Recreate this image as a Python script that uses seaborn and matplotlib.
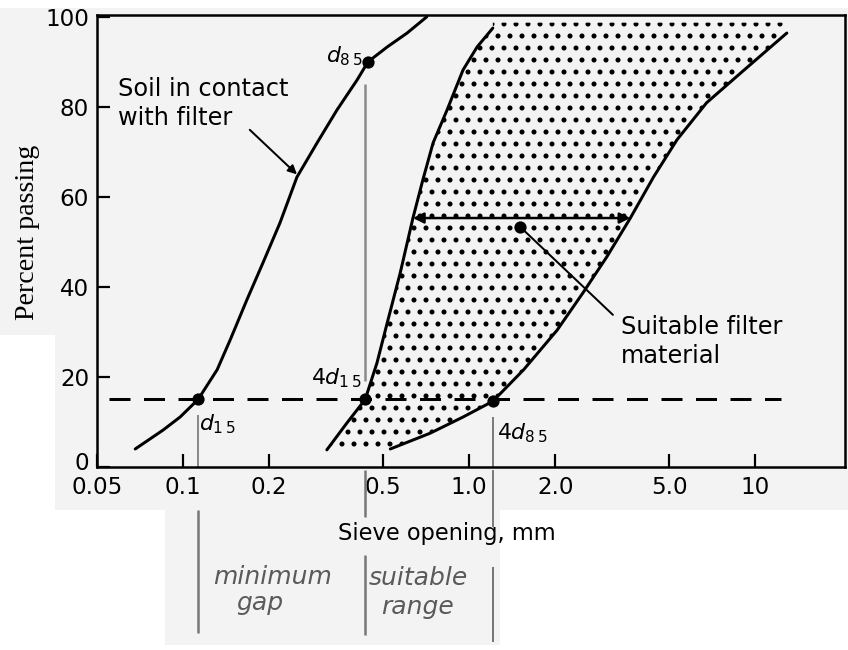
import numpy as np
import pandas as pd
import matplotlib
matplotlib.use("Agg")
import matplotlib.pyplot as plt
from matplotlib.patches import Rectangle
from matplotlib.transforms import ScaledTranslation
import seaborn as sns

# ---------------- data ----------------
soil_size = [0.068, 0.0851, 0.0976, 0.1128, 0.1315, 0.146, 0.167, 0.190, 0.218,
             0.250, 0.294, 0.345, 0.406, 0.443, 0.517, 0.607, 0.711]
soil_pct = [4.0, 8.2, 11.1, 15.0, 21.6, 28.2, 37.1, 45.3, 54.2,
            64.4, 72.0, 79.3, 86.0, 90.0, 93.3, 96.4, 100.0]

filter_fine_size = [0.318, 0.374, 0.433, 0.476, 0.517, 0.574, 0.636, 0.689,
                    0.748, 0.837, 0.952, 1.066, 1.21]
filter_fine_pct = [3.8, 9.8, 15.0, 23.1, 32.0, 43.1, 55.3, 63.8,
                   72.0, 79.3, 88.2, 93.3, 97.5]

filter_coarse_size = [0.53, 0.56, 0.73, 0.952, 1.21, 1.55, 2.03, 2.50, 3.03,
                      3.66, 4.41, 5.33, 6.76, 8.89, 12.9]
filter_coarse_pct = [4.0, 4.6, 7.5, 11.1, 14.6, 21.6, 30.4, 38.7, 46.7,
                     55.3, 64.4, 72.7, 80.9, 87.5, 96.4]

fill_top_pct = 98.7

d15 = 0.1128
d85 = 0.443
four_d15 = 0.433
four_d85 = 1.21
pct_15 = 15
pct_85 = 90
pct_4d85 = 14.6

arrow_pct = 55.3
arrow_left = 0.636
arrow_right = 3.66
filter_label_point = (1.51, 53.3)
filter_label_end = (3.18, 33.8)

dash_x = [0.055, 12.3]

x_ticks = [0.05, 0.1, 0.2, 0.5, 1.0, 2.0, 5.0, 10]
x_tick_labels = ["0.05", "0.1", "0.2", "0.5", "1.0", "2.0", "5.0", "10"]
y_ticks = [0, 20, 40, 60, 80, 100]
y_tick_labels = ["0", "20", "40", "60", "80", "100"]

# ---------------- figure ----------------
sns.set_theme(style="white")
plt.rcParams["font.family"] = ["DejaVu Sans"]
plt.rcParams["text.color"] = "black"
plt.rcParams["axes.labelcolor"] = "black"
plt.rcParams["hatch.linewidth"] = 2.6
plt.rcParams["mathtext.fontset"] = "dejavusans"

DPI = 72
fig = plt.figure(figsize=(848 / DPI, 650 / DPI), dpi=DPI, facecolor="white")

paper = "#f3f3f3"
for (x0, y0, x1, y1) in [(55, 8, 848, 510), (0, 8, 55, 335), (165, 510, 500, 645)]:
    fig.patches.append(Rectangle((x0 / 848, 1 - y1 / 650), (x1 - x0) / 848, (y1 - y0) / 650,
                                 transform=fig.transFigure, facecolor=paper,
                                 edgecolor="none", zorder=-2))

ax = fig.add_axes([97 / 848, 1 - 467 / 650, 748 / 848, 452 / 650])
ax.set_facecolor("none")
ax.set_xscale("log")
ax.set_xlim(0.05, 20.6)
ax.set_ylim(0, 100.4)

# dotted suitable-filter band
poly_x = filter_fine_size + [filter_fine_size[-1], filter_coarse_size[-1]] + filter_coarse_size[::-1]
poly_y = filter_fine_pct + [fill_top_pct, fill_top_pct] + filter_coarse_pct[::-1]
ax.fill(poly_x, poly_y, facecolor="none", edgecolor="black", hatch=".",
        linewidth=0, zorder=1)

# curves
curves = pd.concat([
    pd.DataFrame({"size": soil_size, "pct": soil_pct, "curve": "soil"}),
    pd.DataFrame({"size": filter_fine_size, "pct": filter_fine_pct, "curve": "fine"}),
    pd.DataFrame({"size": filter_coarse_size, "pct": filter_coarse_pct, "curve": "coarse"}),
])
sns.lineplot(data=curves, x="size", y="pct", units="curve", estimator=None,
             sort=False, color="black", linewidth=3, ax=ax, zorder=3)

# dashed 15 % line
ax.plot(dash_x, [pct_15, pct_15], color="black", linewidth=3,
        dashes=(7, 4.5), zorder=2)

# grey guide lines inside the plot
ax.vlines([four_d15], pct_15 + 4, 85, color="#8a8a8a", linewidth=2.5, zorder=2)
ax.vlines([d15], 0, 11.5, color="#8a8a8a", linewidth=2, zorder=2)
ax.vlines([four_d85], 0, 11, color="#555555", linewidth=1.5, zorder=2)

# key points
pts = pd.DataFrame({
    "size": [d15, four_d15, four_d85, d85, filter_label_point[0]],
    "pct": [pct_15, pct_15, pct_4d85, pct_85, filter_label_point[1]],
})
sns.scatterplot(data=pts, x="size", y="pct", color="black", s=150,
                edgecolor="black", linewidth=0, ax=ax, zorder=5)

# horizontal double arrow
ax.annotate("", xy=(arrow_left, arrow_pct), xytext=(arrow_right, arrow_pct),
            arrowprops=dict(arrowstyle="<|-|>", color="black", lw=2.5,
                            mutation_scale=22, shrinkA=0, shrinkB=0), zorder=4)

# leader to "Suitable filter material"
ax.plot([filter_label_point[0], filter_label_end[0]],
        [filter_label_point[1], filter_label_end[1]], color="black", linewidth=2, zorder=4)
ax.text(3.4, 31.1, "Suitable filter", fontsize=24, ha="left", va="center")
ax.text(3.4, 24.6, "material", fontsize=24, ha="left", va="center")

# soil label + arrow
ax.text(0.059, 84, "Soil in contact", fontsize=24, ha="left", va="center")
ax.text(0.059, 77.6, "with filter", fontsize=24, ha="left", va="center")
ax.annotate("", xy=(0.25, 65.0), xytext=(0.171, 74.9),
            arrowprops=dict(arrowstyle="-|>", color="black", lw=2,
                            mutation_scale=18, shrinkA=0, shrinkB=0))

# point labels
ax.text(0.425, 91.2, r"$d_{8\,5}$", fontsize=22, ha="right", va="center")
ax.text(0.42, 19.8, r"$4d_{1\,5}$", fontsize=22, ha="right", va="center")
ax.text(0.114, 9.5, r"$d_{1\,5}$", fontsize=22, ha="left", va="center")
ax.text(1.25, 7.6, r"$4d_{8\,5}$", fontsize=22, ha="left", va="center")

# axes styling
for sp in ax.spines.values():
    sp.set_visible(True)
    sp.set_color("black")
    sp.set_linewidth(2.5)
ax.set_xticks(x_ticks)
ax.set_xticklabels(x_tick_labels)
ax.xaxis.set_minor_locator(matplotlib.ticker.NullLocator())
ax.set_yticks(y_ticks)
ax.set_yticklabels(y_tick_labels)
ax.tick_params(axis="both", direction="in", length=13, width=2.2, color="black",
               labelsize=23, labelcolor="black")
ax.tick_params(axis="x", pad=9, bottom=True, top=False)
ax.tick_params(axis="y", pad=8, left=True, right=False)
for lab in ax.get_yticklabels():
    if lab.get_text() == "0":
        lab.set_transform(lab.get_transform() + ScaledTranslation(0, 6 / 72, fig.dpi_scale_trans))

ax.set_ylabel("Percent passing", family=["Liberation Serif", "DejaVu Serif"], fontsize=28)
ax.yaxis.set_label_coords(-0.076, 0.52)
ax.set_xlabel("Sieve opening, mm", fontsize=22.5)
ax.xaxis.set_label_coords(0.468, -0.122)

# guide lines below the axis (x in data, y in axes fraction)
xt = ax.get_xaxis_transform()
ax.vlines([d15], -0.367, -0.095, transform=xt, clip_on=False, color="#777777", linewidth=2.5)
ax.vlines([four_d15], -0.111, -0.006, transform=xt, clip_on=False, color="#777777", linewidth=2.5)
ax.vlines([four_d15], -0.372, -0.195, transform=xt, clip_on=False, color="#777777", linewidth=2.5)
ax.vlines([four_d85], -0.133, -0.006, transform=xt, clip_on=False, color="#555555", linewidth=1.5)
ax.vlines([four_d85], -0.387, -0.221, transform=xt, clip_on=False, color="#777777", linewidth=2)

hand = dict(fontsize=25, style="italic", color="#5a5a5a", ha="center", va="center",
            transform=xt, clip_on=False)
ax.text(0.206, -0.243, "minimum", **hand)
ax.text(0.186, -0.301, "gap", **hand)
ax.text(0.664, -0.246, "suitable", **hand)
ax.text(0.66, -0.310, "range", **hand)

fig.savefig("out.png", dpi=DPI, facecolor="white")
